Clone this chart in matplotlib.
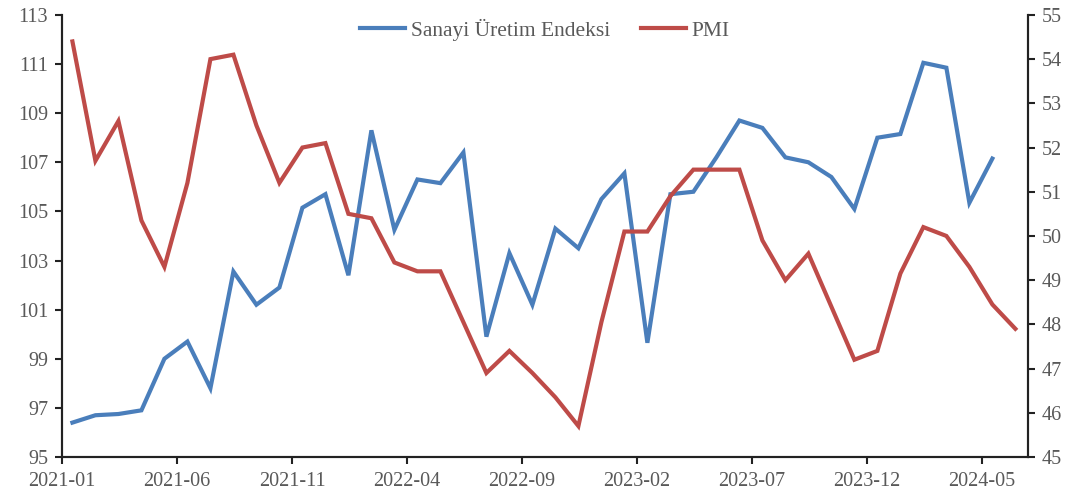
import matplotlib
matplotlib.use("Agg")
import matplotlib.pyplot as plt
import pandas as pd

months = pd.period_range("2021-01", "2024-06", freq="M").strftime("%Y-%m").tolist()

sanayi = [96.4, 96.7, 96.75, 96.9, 99.0, 99.7, 97.8, 102.55, 101.2, 101.9,
          105.15, 105.7, 102.4, 108.3, 104.25, 106.3, 106.15, 107.4, 99.9, 103.3,
          101.2, 104.3, 103.5, 105.5, 106.55, 99.65, 105.7, 105.8, 107.2, 108.7,
          108.4, 107.2, 107.0, 106.4, 105.1, 108.0, 108.15, 111.05, 110.85, 105.35,
          107.15]

pmi = [54.4, 51.7, 52.6, 50.35, 49.3, 51.2, 54.0, 54.1, 52.5, 51.2,
       52.0, 52.1, 50.5, 50.4, 49.4, 49.2, 49.2, 48.05, 46.9, 47.4,
       46.9, 46.35, 45.7, 48.05, 50.1, 50.1, 50.9, 51.5, 51.5, 51.5,
       49.9, 49.0, 49.6, 48.4, 47.2, 47.4, 49.15, 50.2, 50.0, 49.3,
       48.45, 47.9]

tick_labels = ["2021-01", "2021-06", "2021-11", "2022-04", "2022-09",
               "2023-02", "2023-07", "2023-12", "2024-05"]

blue = "#4a7ebb"
red = "#be4b48"
txt = "#595959"

plt.rcParams['font.family'] = ['Liberation Serif', 'DejaVu Serif']

fig = plt.figure(figsize=(10.89, 4.97), dpi=100)
ax = fig.add_axes([0.057, 0.0805, 0.887, 0.8895])
ax2 = ax.twinx()

offset = 0.45
xb = [months.index(m) + offset for m in months[:len(sanayi)]]
xr = [months.index(m) + offset for m in months[:len(pmi)]]

l1, = ax.plot(xb, sanayi, color=blue, lw=3.0, solid_joinstyle='miter', label="Sanayi Üretim Endeksi")
l2, = ax2.plot(xr, pmi, color=red, lw=3.0, solid_joinstyle='miter', label="PMI")

ax.set_xlim(0, 42)
ax.set_ylim(95, 113)
ax.set_yticks(range(95, 114, 2))
ax2.set_ylim(45, 55)
ax2.set_yticks(range(45, 56, 1))

ax.set_xticks([months.index(t) for t in tick_labels])
ax.set_xticklabels(tick_labels)

for a in (ax, ax2):
    a.spines['top'].set_visible(False)
    for s in ('left', 'right', 'bottom'):
        a.spines[s].set_linewidth(1.5)
        a.spines[s].set_color('#222222')
    a.tick_params(axis='both', direction='out', length=5, width=1.5, color='#222222',
                  labelsize=14.5, labelcolor=txt)

ax.tick_params(axis='y', pad=5)
ax2.tick_params(axis='y', pad=5)
ax.tick_params(axis='x', pad=6)

leg = ax.legend(handles=[l1, l2], loc='upper center', bbox_to_anchor=(0.5, 1.035),
                ncol=2, frameon=False, fontsize=15.5, handlelength=2.1,
                columnspacing=1.45, handletextpad=0.25)
for t in leg.get_texts():
    t.set_color(txt)

fig.savefig("out.png", dpi=100)
